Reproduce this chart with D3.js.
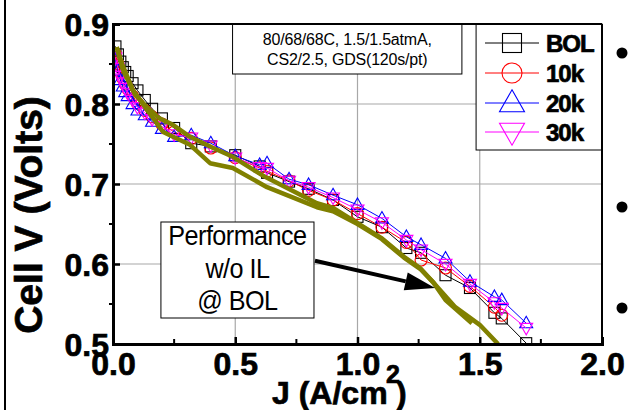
<!DOCTYPE html>
<html><head><meta charset="utf-8">
<script src="https://cdn.jsdelivr.net/npm/d3@7"></script>
<style>body{margin:0;background:#fff}svg{display:block}text{font-family:Arial,"Liberation Sans",sans-serif}</style>
</head><body><svg id="c" width="630" height="410"></svg>
<script>
// ---- data ----
const J = [0.01,0.02,0.03,0.04,0.05,0.06,0.08,0.10,0.13,0.16,0.20,0.25,0.32,0.40,0.50,0.60,0.63,0.72,0.80,0.90,1.00,1.10,1.20,1.26,1.36,1.46,1.56,1.59,1.69];
const vBOL = [0.872,0.862,0.853,0.846,0.840,0.835,0.826,0.817,0.805,0.794,0.782,0.770,0.751,0.747,0.736,0.722,0.714,0.703,0.694,0.680,0.659,0.646,0.620,0.614,0.586,0.570,0.539,0.532,0.501];
const v10k = [0.862,0.850,0.840,0.832,0.825,0.819,0.810,0.801,0.792,0.784,0.775,0.765,0.757,0.745,0.733,0.720,0.716,0.704,0.692,0.680,0.663,0.646,0.627,0.605,0.595,0.572,0.546,0.536,null];
const v20k = [0.855,0.842,0.830,0.822,0.815,0.810,0.800,0.792,0.786,0.778,0.769,0.759,0.761,0.751,0.735,0.724,0.726,0.706,0.699,0.686,0.674,0.657,0.634,0.624,0.607,0.578,0.559,0.555,0.526];
const v30k = [0.858,0.845,0.835,0.827,0.820,0.814,0.805,0.796,0.789,0.781,0.772,0.762,0.758,0.748,0.733,0.721,0.720,0.704,0.696,0.683,0.668,0.652,0.630,0.618,0.600,0.575,0.552,0.545,0.520];
// performance w/o IL @ BOL (two traces)
const olAJ = [0.015,0.04,0.09,0.139,0.19,0.245,0.315,0.41,0.49,0.61,0.834,0.90,1.00,1.10,1.19,1.256,1.31,1.36,1.468];
const olAV = [0.871,0.843,0.812,0.796,0.782,0.774,0.759,0.745,0.734,0.711,0.676,0.670,0.651,0.632,0.609,0.595,0.577,0.555,0.526];
const olBJ = [0.015,0.04,0.08,0.139,0.205,0.315,0.397,0.49,0.63,0.834,0.90,1.00,1.10,1.19,1.256,1.31,1.40,1.50,1.575];
const olBV = [0.871,0.848,0.818,0.793,0.765,0.749,0.726,0.720,0.696,0.671,0.666,0.650,0.631,0.608,0.594,0.577,0.546,0.524,0.500];
const xTicks = [0.0,0.5,1.0,1.5,2.0];
const yTicks = [0.5,0.6,0.7,0.8,0.9];
const seriesNames = ["BOL","10k","20k","30k"];
const seriesColors = ["#000000","#ff0000","#0000ff","#ff00ff"];
const seriesShapes = ["square","circle","tri","itri"];
const seriesVals = [vBOL,v10k,v20k,v30k];
const noteLines = ["80/68/68C, 1.5/1.5atmA,","CS2/2.5, GDS(120s/pt)"];
const perfLines = ["Performance","w/o IL","@ BOL"];

// ---- layout ----
const svg = d3.select("#c");
const L=113,R=602,T=24,B=344;
const x = d3.scaleLinear().domain([0,2]).range([L,R]);
const y = d3.scaleLinear().domain([0.5,0.9]).range([B,T]);
const heavy = s => s.attr("font-weight","bold").attr("stroke","#000").attr("stroke-width",0.7).attr("fill","#000");

// slide border & bullets
svg.append("line").attr("x1",5).attr("x2",5).attr("y1",0).attr("y2",410).attr("stroke","#000").attr("stroke-width",2);
[53,207,308].forEach(yy=>svg.append("circle").attr("cx",622).attr("cy",yy).attr("r",5.5).attr("fill","#000"));

// grid
const g = svg.append("g");
[0.5,1.0,1.5].forEach(v=>g.append("line").attr("x1",x(v)).attr("x2",x(v)).attr("y1",T).attr("y2",B).attr("stroke","#a8a8a8").attr("stroke-width",1.2));
[0.6,0.7,0.8].forEach(v=>g.append("line").attr("x1",L).attr("x2",R).attr("y1",y(v)).attr("y2",y(v)).attr("stroke","#a8a8a8").attr("stroke-width",1.2));

// note box
const nb = svg.append("g");
nb.append("rect").attr("x",x(0.489)).attr("y",y(0.9)).attr("width",x(1.427)-x(0.489)).attr("height",y(0.8375)-y(0.9)).attr("fill","#fff").attr("stroke","#000").attr("stroke-width",1);
noteLines.forEach((t,i)=>nb.append("text").attr("x",(x(0.489)+x(1.427))/2).attr("y",45+i*20).attr("text-anchor","middle").attr("font-size",16).attr("letter-spacing",-0.2).text(t));

// clip
svg.append("clipPath").attr("id","pc").append("rect").attr("x",L).attr("y",T).attr("width",R-L).attr("height",B-T);
const plot = svg.append("g").attr("clip-path","url(#pc)");

function marker(sel, shape, cx, cy, s, color){
  let p;
  if(shape==="square") p=sel.append("rect").attr("x",cx-s/2).attr("y",cy-s/2).attr("width",s).attr("height",s);
  else if(shape==="circle") p=sel.append("circle").attr("cx",cx).attr("cy",cy).attr("r",s/2);
  else if(shape==="tri"){const h=s*0.88; p=sel.append("path").attr("d",`M${cx},${cy-h*0.6}L${cx+s/2},${cy+h*0.4}L${cx-s/2},${cy+h*0.4}Z`);}
  else {const h=s*0.88; p=sel.append("path").attr("d",`M${cx},${cy+h*0.6}L${cx+s/2},${cy-h*0.4}L${cx-s/2},${cy-h*0.4}Z`);}
  p.attr("fill","none").attr("stroke",color).attr("stroke-width",1.1);
}

const line = d3.line().defined(d=>d[1]!=null).x(d=>x(d[0])).y(d=>y(d[1]));
seriesVals.forEach((vals,k)=>{
  const pts = J.map((j,i)=>[j,vals[i]]);
  plot.append("path").attr("d",line(pts)).attr("fill","none").attr("stroke",seriesColors[k]).attr("stroke-width",1);
  const sz = seriesShapes[k]==="square"?11:(seriesShapes[k]==="circle"?12:13);
  pts.filter(d=>d[1]!=null).forEach(d=>marker(plot,seriesShapes[k],x(d[0]),y(d[1]),sz,seriesColors[k]));
});

// olive traces
[[olAJ,olAV],[olBJ,olBV]].forEach(([jj,vv])=>{
  plot.append("path").attr("d",d3.line().x(d=>x(d[0])).y(d=>y(d[1]))(jj.map((j,i)=>[j,vv[i]])))
    .attr("fill","none").attr("stroke","#808000").attr("stroke-width",4.5).attr("stroke-linejoin","round");
});

// perf box
const pb = svg.append("g");
const pcx=(x(0.196)+x(0.822))/2;
pb.append("rect").attr("x",x(0.196)).attr("y",y(0.6525)).attr("width",x(0.822)-x(0.196)).attr("height",y(0.5325)-y(0.6525)).attr("fill","#fff").attr("stroke","#000").attr("stroke-width",1);
perfLines.forEach((t,i)=>pb.append("text").attr("transform",`translate(${pcx},${[245,278,310][i]}) scale(0.9,1)`).attr("text-anchor","middle").attr("font-size",28).attr("letter-spacing",-0.6).text(t));

// arrow
const ax0=x(0.826), ay0=y(0.604), ax1=x(1.317), ay1=y(0.57);
const ang=Math.atan2(ay1-ay0,ax1-ax0), hl=30, hw=9;
const bx=ax1-hl*Math.cos(ang), by=ay1-hl*Math.sin(ang);
svg.append("line").attr("x1",ax0).attr("y1",ay0).attr("x2",bx).attr("y2",by).attr("stroke","#000").attr("stroke-width",4);
svg.append("path").attr("d",`M${ax1},${ay1}L${bx-hw*Math.sin(ang)},${by+hw*Math.cos(ang)}L${bx+hw*Math.sin(ang)},${by-hw*Math.cos(ang)}Z`).attr("fill","#000");

// legend
const lg = svg.append("g");
lg.append("rect").attr("x",x(1.485)).attr("y",T).attr("width",R-x(1.485)).attr("height",126).attr("fill","#fff").attr("stroke","#000").attr("stroke-width",1);
seriesNames.forEach((n,k)=>{
  const yy=[43,73,103,132][k];
  lg.append("line").attr("x1",485).attr("x2",539).attr("y1",yy).attr("y2",yy).attr("stroke",seriesColors[k]).attr("stroke-width",1);
  const sz = seriesShapes[k]==="square"?19:(seriesShapes[k]==="circle"?20:25);
  marker(lg,seriesShapes[k],512,yy,sz,seriesColors[k]);
  lg.append("text").attr("x",546).attr("y",yy+8.5).attr("font-size",24).attr("letter-spacing",-1).call(heavy).text(n);
});

// axes frame
svg.append("line").attr("x1",L).attr("x2",R).attr("y1",T).attr("y2",T).attr("stroke","#000").attr("stroke-width",2);
svg.append("line").attr("x1",R).attr("x2",R).attr("y1",T).attr("y2",B).attr("stroke","#000").attr("stroke-width",2);
const xAxis = d3.axisBottom(x).tickValues(xTicks).tickSize(-7).tickFormat(d3.format(".1f"));
const yAxis = d3.axisLeft(y).tickValues(yTicks).tickSize(-7).tickFormat(d3.format(".1f"));
const gx = svg.append("g").attr("transform",`translate(0,${B})`).call(xAxis);
const gy = svg.append("g").attr("transform",`translate(${L},0)`).call(yAxis);
[gx,gy].forEach(a=>{
  a.select(".domain").attr("stroke","#000").attr("stroke-width",3);
  a.selectAll(".tick line").attr("stroke","#000").attr("stroke-width",2.5);
  a.selectAll(".tick text").attr("font-size",32).call(heavy).attr("font-family","Arial, 'Liberation Sans', sans-serif");
});
gx.selectAll(".tick text").attr("dy",null).attr("y",31);
gy.selectAll(".tick text").attr("x",-4).attr("dy","0.36em");
// minor ticks
[0.25,0.75,1.25,1.75].forEach(v=>svg.append("line").attr("x1",x(v)).attr("x2",x(v)).attr("y1",B).attr("y2",B-5).attr("stroke","#000").attr("stroke-width",2));
[0.55,0.65,0.75,0.85].forEach(v=>svg.append("line").attr("x1",L-4).attr("x2",L).attr("y1",y(v)).attr("y2",y(v)).attr("stroke","#000").attr("stroke-width",2));

// axis titles
svg.append("text").attr("transform","translate(42,215) rotate(-90)").attr("text-anchor","middle").attr("font-size",39).call(heavy).text("Cell V (Volts)");
svg.append("text").attr("x",272).attr("y",404).attr("font-size",32).call(heavy).text("J (A/cm");
svg.append("text").attr("x",386).attr("y",383).attr("font-size",25).call(heavy).text("2");
svg.append("text").attr("x",396).attr("y",404).attr("font-size",32).call(heavy).text(")");
</script></body></html>
